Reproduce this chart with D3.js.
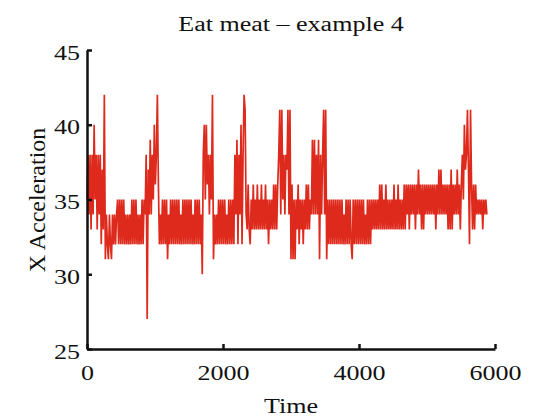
<!DOCTYPE html>
<html>
<head>
<meta charset="utf-8">
<script src="https://cdn.jsdelivr.net/npm/d3@7/dist/d3.min.js"></script>
<style>
body { margin: 0; background: #fff; }
text { font-family: "Liberation Serif", "Times New Roman", serif; fill: #111; }
</style>
</head>
<body>
<svg id="chart" width="548" height="418"></svg>
<script>
var title = "Eat meat \u2013 example 4";
var xLabel = "Time";
var yLabel = "X Acceleration";
var xTicks = [0, 2000, 4000, 6000];
var yTicks = [25, 30, 35, 40, 45];

// one reading every 15 time units
var sampleStep = 15;
var accel = [
  35,38,34,38,33,38,34,40,35,38,33,38,34,38,32,37,33,42,31,34,
  32,31,34,32,31,34,32,34,32,34,35,32,35,32,35,32,35,32,34,32,
  34,32,34,32,35,32,35,32,35,32,34,32,34,32,35,32,35,34,38,27,
  37,34,39,34,38,35,40,36,38,42,36,32,34,32,35,32,35,32,35,31,
  34,32,35,32,35,32,35,32,35,32,35,32,34,32,35,32,35,32,35,32,
  35,32,35,32,34,32,35,32,35,32,35,32,34,30,38,40,35,40,36,38,
  34,38,35,42,31,34,32,34,32,35,32,35,32,35,32,35,32,34,32,35,
  32,35,32,35,32,38,34,39,32,38,34,40,32,38,42,41,34,33,36,33,
  32,35,33,36,33,35,33,36,33,35,33,36,33,35,33,36,33,35,32,35,
  33,35,33,36,33,36,33,36,38,41,34,41,35,38,34,38,37,41,34,41,
  31,36,31,35,31,35,33,36,32,35,33,35,32,35,33,36,33,36,33,35,
  34,39,34,39,34,38,34,39,31,38,34,38,41,34,41,31,35,32,35,32,
  35,32,35,32,35,32,35,32,35,32,35,32,34,32,35,32,35,32,35,32,
  31,35,32,35,32,35,32,35,32,35,32,35,32,34,32,35,32,35,32,35,
  33,35,33,35,33,35,33,36,33,36,33,35,33,36,33,35,33,35,33,35,
  33,36,33,35,33,36,33,35,33,35,33,36,33,36,34,36,33,36,34,36,
  34,36,33,36,34,37,34,36,33,36,33,36,34,36,34,36,34,36,34,36,
  34,36,33,36,34,37,34,37,34,36,34,36,34,36,33,36,33,37,33,36,
  34,36,34,37,34,36,33,36,38,35,40,37,38,41,37,32,41,36,33,36,
  33,36,34,35,34,35,34,35,33,35,34,35,34
];

var stretch = 1.27;   // the original text is a bit wide

var svg = d3.select("#chart");

var x = d3.scaleLinear().domain([0, 6000]).range([87, 495]);
var y = d3.scaleLinear().domain([25, 45]).range([349, 50]);

// data line first so the axes sit on top
var line = d3.line()
  .x(function(d, i) { return x(i * sampleStep); })
  .y(function(d) { return y(d); });

svg.append("path")
  .datum(accel)
  .attr("d", line)
  .attr("fill", "none")
  .attr("stroke", "#de2a1c")
  .attr("stroke-width", 1.7)
  .attr("stroke-linejoin", "miter");

var yAxis = svg.append("g")
  .attr("transform", "translate(" + x(0) + ",0)")
  .call(d3.axisLeft(y).tickValues(yTicks).tickSize(-5).tickSizeOuter(0).tickPadding(7 / stretch));

var xAxis = svg.append("g")
  .attr("transform", "translate(0," + y(25) + ")")
  .call(d3.axisBottom(x).tickValues(xTicks).tickFormat(d3.format("d"))
    .tickSize(-5).tickSizeOuter(0).tickPadding(16));

[yAxis, xAxis].forEach(function(ax) {
  ax.select(".domain").attr("stroke", "#111").attr("stroke-width", 2.5);
  ax.selectAll(".tick line").attr("stroke", "#111").attr("stroke-width", 2.5);
  ax.selectAll(".tick text")
    .attr("font-size", "20.5px")
    .attr("font-family", null)
    .attr("fill", "#111")
    .attr("transform", "scale(" + stretch + ",1)");
});
yAxis.selectAll(".tick text").attr("dy", "0.44em");

svg.append("text")
  .attr("transform", "translate(291,31) scale(" + stretch + ",1)")
  .attr("text-anchor", "middle")
  .attr("font-size", "20.5px")
  .text(title);

svg.append("text")
  .attr("transform", "translate(291,413) scale(" + stretch + ",1)")
  .attr("text-anchor", "middle")
  .attr("font-size", "20.5px")
  .text(xLabel);

svg.append("text")
  .attr("transform", "translate(45,200) rotate(-90)")
  .attr("text-anchor", "middle")
  .attr("font-size", "24px")
  .text(yLabel);
</script>
</body>
</html>
